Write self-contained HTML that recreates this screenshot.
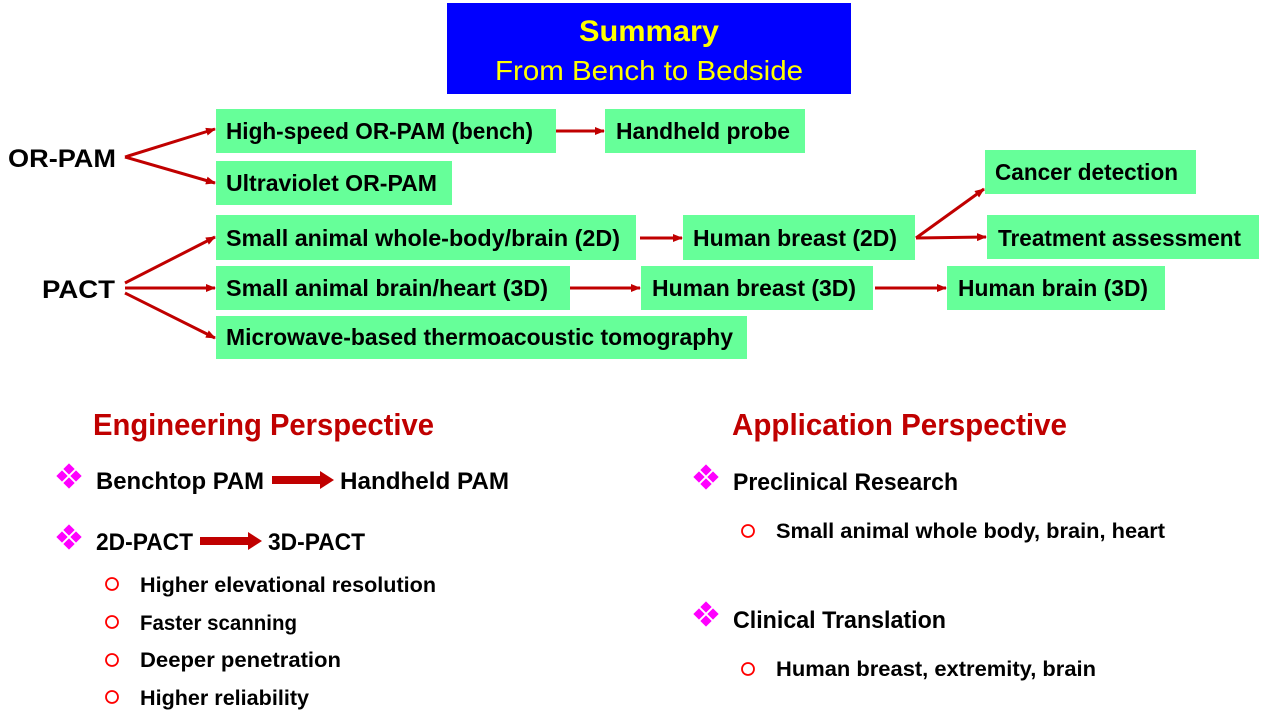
<!DOCTYPE html>
<html><head><meta charset="utf-8"><style>
html,body{margin:0;padding:0;background:#fff;}
svg{display:block;}
text{font-family:"Liberation Sans",sans-serif;font-weight:bold;}
</style></head><body>
<svg width="1269" height="721" viewBox="0 0 1269 721" xmlns="http://www.w3.org/2000/svg">
<defs>
<marker id="a" markerWidth="10" markerHeight="8" refX="9" refY="4" orient="auto" markerUnits="userSpaceOnUse">
<path d="M0,0 L10,4 L0,8 z" fill="#c00000"/></marker>
<g id="dm" fill="#ff00ff">
<rect x="-4" y="-4" width="8" height="8" transform="translate(0,-7) rotate(45)"/>
<rect x="-4" y="-4" width="8" height="8" transform="translate(-7,0) rotate(45)"/>
<rect x="-4" y="-4" width="8" height="8" transform="translate(7,0) rotate(45)"/>
<rect x="-4" y="-4" width="8" height="8" transform="translate(0,7) rotate(45)"/>
</g>
</defs>
<rect x="447" y="3" width="404" height="91" fill="#0000ff"/>
<text x="649" y="41" text-anchor="middle" fill="#ffff00" font-size="30" textLength="140" lengthAdjust="spacingAndGlyphs">Summary</text>
<text x="649" y="80" text-anchor="middle" fill="#ffff00" font-size="28" style="font-weight:normal" textLength="308" lengthAdjust="spacingAndGlyphs">From Bench to Bedside</text>

<g fill="#66ff99">
<rect x="216" y="109" width="340" height="44"/>
<rect x="605" y="109" width="200" height="44"/>
<rect x="216" y="161" width="236" height="44"/>
<rect x="985" y="150" width="211" height="44"/>
<rect x="216" y="215" width="420" height="45"/>
<rect x="683" y="215" width="232" height="45"/>
<rect x="987" y="215" width="272" height="44"/>
<rect x="216" y="266" width="354" height="44"/>
<rect x="641" y="266" width="232" height="44"/>
<rect x="947" y="266" width="218" height="44"/>
<rect x="216" y="316" width="531" height="43"/>
</g>
<g font-size="23" fill="#000">
<text x="226" y="139" textLength="307" lengthAdjust="spacingAndGlyphs">High-speed OR-PAM (bench)</text>
<text x="616" y="139" textLength="174" lengthAdjust="spacingAndGlyphs">Handheld probe</text>
<text x="226" y="191" textLength="211" lengthAdjust="spacingAndGlyphs">Ultraviolet OR-PAM</text>
<text x="995" y="180" textLength="183" lengthAdjust="spacingAndGlyphs">Cancer detection</text>
<text x="226" y="246" textLength="394" lengthAdjust="spacingAndGlyphs">Small animal whole-body/brain (2D)</text>
<text x="693" y="246" textLength="204" lengthAdjust="spacingAndGlyphs">Human breast (2D)</text>
<text x="998" y="246" textLength="243" lengthAdjust="spacingAndGlyphs">Treatment assessment</text>
<text x="226" y="296" textLength="322" lengthAdjust="spacingAndGlyphs">Small animal brain/heart (3D)</text>
<text x="652" y="296" textLength="204" lengthAdjust="spacingAndGlyphs">Human breast (3D)</text>
<text x="958" y="296" textLength="190" lengthAdjust="spacingAndGlyphs">Human brain (3D)</text>
<text x="226" y="345" textLength="507" lengthAdjust="spacingAndGlyphs">Microwave-based thermoacoustic tomography</text>
</g>
<text x="8" y="167" font-size="25" textLength="108" lengthAdjust="spacingAndGlyphs">OR-PAM</text>
<text x="42" y="298" font-size="25" textLength="73" lengthAdjust="spacingAndGlyphs">PACT</text>

<g stroke="#c00000" stroke-width="3" fill="none" marker-end="url(#a)">
<line x1="125" y1="157" x2="215" y2="129"/>
<line x1="125" y1="157" x2="215" y2="183"/>
<line x1="125" y1="283" x2="215" y2="237"/>
<line x1="125" y1="288" x2="215" y2="288"/>
<line x1="125" y1="293" x2="215" y2="338"/>
<line x1="556" y1="131" x2="604" y2="131"/>
<line x1="640" y1="238" x2="682" y2="238"/>
<line x1="570" y1="288" x2="640" y2="288"/>
<line x1="875" y1="288" x2="946" y2="288"/>
<line x1="916" y1="238" x2="984" y2="189"/>
<line x1="916" y1="238" x2="986" y2="237"/>
</g>

<text x="93" y="435" font-size="31" fill="#c00000" textLength="341" lengthAdjust="spacingAndGlyphs">Engineering Perspective</text>
<text x="732" y="435" font-size="31" fill="#c00000" textLength="335" lengthAdjust="spacingAndGlyphs">Application Perspective</text>

<use href="#dm" x="69" y="476"/>
<use href="#dm" x="69" y="537"/>
<use href="#dm" x="706" y="477"/>
<use href="#dm" x="706" y="614"/>

<g font-size="24" fill="#000">
<text x="96" y="489" textLength="168" lengthAdjust="spacingAndGlyphs">Benchtop PAM</text>
<text x="340" y="489" textLength="169" lengthAdjust="spacingAndGlyphs">Handheld PAM</text>
<text x="96" y="550" textLength="97" lengthAdjust="spacingAndGlyphs">2D-PACT</text>
<text x="268" y="550" textLength="97" lengthAdjust="spacingAndGlyphs">3D-PACT</text>
<text x="733" y="490" textLength="225" lengthAdjust="spacingAndGlyphs">Preclinical Research</text>
<text x="733" y="628" textLength="213" lengthAdjust="spacingAndGlyphs">Clinical Translation</text>
</g>
<path d="M272,476 H320 V471 L334,480 L320,489 V484 H272 Z" fill="#c00000"/>
<path d="M200,537 H248 V532 L262,541 L248,550 V545 H200 Z" fill="#c00000"/>

<g fill="none" stroke="#ff0000" stroke-width="1.8">
<circle cx="112" cy="584" r="6"/>
<circle cx="112" cy="622" r="6"/>
<circle cx="112" cy="660" r="6"/>
<circle cx="112" cy="697" r="6"/>
<circle cx="748" cy="531" r="6"/>
<circle cx="748" cy="669" r="6"/>
</g>
<g font-size="21.5" fill="#000">
<text x="140" y="592" textLength="296" lengthAdjust="spacingAndGlyphs">Higher elevational resolution</text>
<text x="140" y="630" textLength="157" lengthAdjust="spacingAndGlyphs">Faster scanning</text>
<text x="140" y="667" textLength="201" lengthAdjust="spacingAndGlyphs">Deeper penetration</text>
<text x="140" y="705" textLength="169" lengthAdjust="spacingAndGlyphs">Higher reliability</text>
<text x="776" y="538" textLength="389" lengthAdjust="spacingAndGlyphs">Small animal whole body, brain, heart</text>
<text x="776" y="676" textLength="320" lengthAdjust="spacingAndGlyphs">Human breast, extremity, brain</text>
</g>
</svg>
</body></html>
